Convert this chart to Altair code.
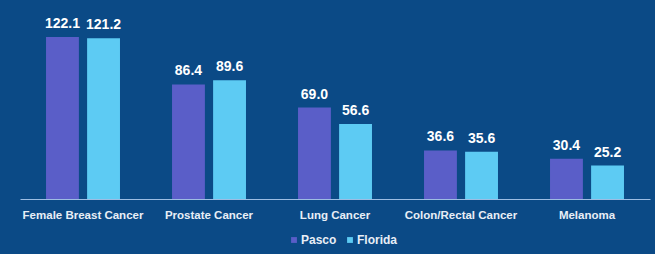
import altair as alt
import pandas as pd
import jinja2

categories = ["Female Breast Cancer", "Prostate Cancer", "Lung Cancer", "Colon/Rectal Cancer", "Melanoma"]
series = ["Pasco", "Florida"]
pasco = [122.1, 86.4, 69.0, 36.6, 30.4]
florida = [121.2, 89.6, 56.6, 35.6, 25.2]

rows = []
for c, p, f in zip(categories, pasco, florida):
    rows.append({"cat": c, "series": "Pasco", "value": p})
    rows.append({"cat": c, "series": "Florida", "value": f})
df = pd.DataFrame(rows)

BG = "#0B4A86"
FONT = "Liberation Sans Narrow, Arial Narrow, Liberation Sans, Arial, sans-serif"

x = alt.X("cat:N", sort=categories, title=None,
          scale=alt.Scale(paddingInner=0.413, paddingOuter=0.2065),
          axis=alt.Axis(labelAngle=0, ticks=False, labelPadding=10, labelFont=FONT,
                        labelFontSize=11.5, labelFontWeight="bold", labelColor="#E8EEF6",
                        domainColor="#9DBDE3", domainWidth=1, grid=False))
xo = alt.XOffset("series:N", sort=series, scale=alt.Scale(paddingInner=0.2, paddingOuter=0))
y = alt.Y("value:Q", scale=alt.Scale(domain=[0, 135], nice=False), axis=None)

bars = alt.Chart(df).mark_bar().encode(
    x=x, xOffset=xo, y=y,
    color=alt.Color("series:N", sort=series,
                    scale=alt.Scale(domain=series, range=["#5A5EC8", "#5DCBF3"]),
                    legend=alt.Legend(title=None, orient="none", direction="horizontal",
                                      legendX=268, legendY=214, symbolType="square",
                                      symbolSize=34, symbolStrokeWidth=0, labelFont=FONT,
                                      labelFontSize=12, labelFontWeight="bold",
                                      labelColor="#E8EEF6", labelOffset=1, columnPadding=7)),
)

labels = alt.Chart(df).mark_text(baseline="bottom", dy=-6, font=FONT, fontSize=14,
                                 fontWeight="bold", color="white").encode(
    x=x, xOffset=xo, y=y,
    text=alt.Text("value:Q", format=".1f"),
)

chart = (bars + labels).properties(
    width=630, height=179,
    background=BG,
    padding={"left": 20, "top": 20, "right": 5, "bottom": 55},
    autosize=alt.AutoSizeParams(type="none"),
).configure_view(stroke=None)

TEMPLATE = jinja2.Template("""<!DOCTYPE html>
<html>
<head>
  <style>
    html, body { margin: 0; padding: 0; background: #0B4A86; overflow: hidden; }
    #{{ output_div }}.vega-embed { width: 100%; display: flex; }
  </style>
  <script type="text/javascript" src="{{ base_url }}/vega@{{ vega_version }}"></script>
  <script type="text/javascript" src="{{ base_url }}/vega-lite@{{ vegalite_version }}"></script>
  <script type="text/javascript" src="{{ base_url }}/vega-embed@{{ vegaembed_version }}"></script>
</head>
<body>
  <div id="{{ output_div }}"></div>
  <script type="text/javascript">
    var spec = {{ spec }};
    var embedOpt = {{ embed_options }};
    vegaEmbed("#{{ output_div }}", spec, embedOpt).catch(console.error);
  </script>
</body>
</html>""")

try:
    chart.save("out.html", embed_options={"renderer": "svg", "actions": False}, template=TEMPLATE)
except Exception:
    chart.save("out.html", embed_options={"renderer": "svg", "actions": False})
